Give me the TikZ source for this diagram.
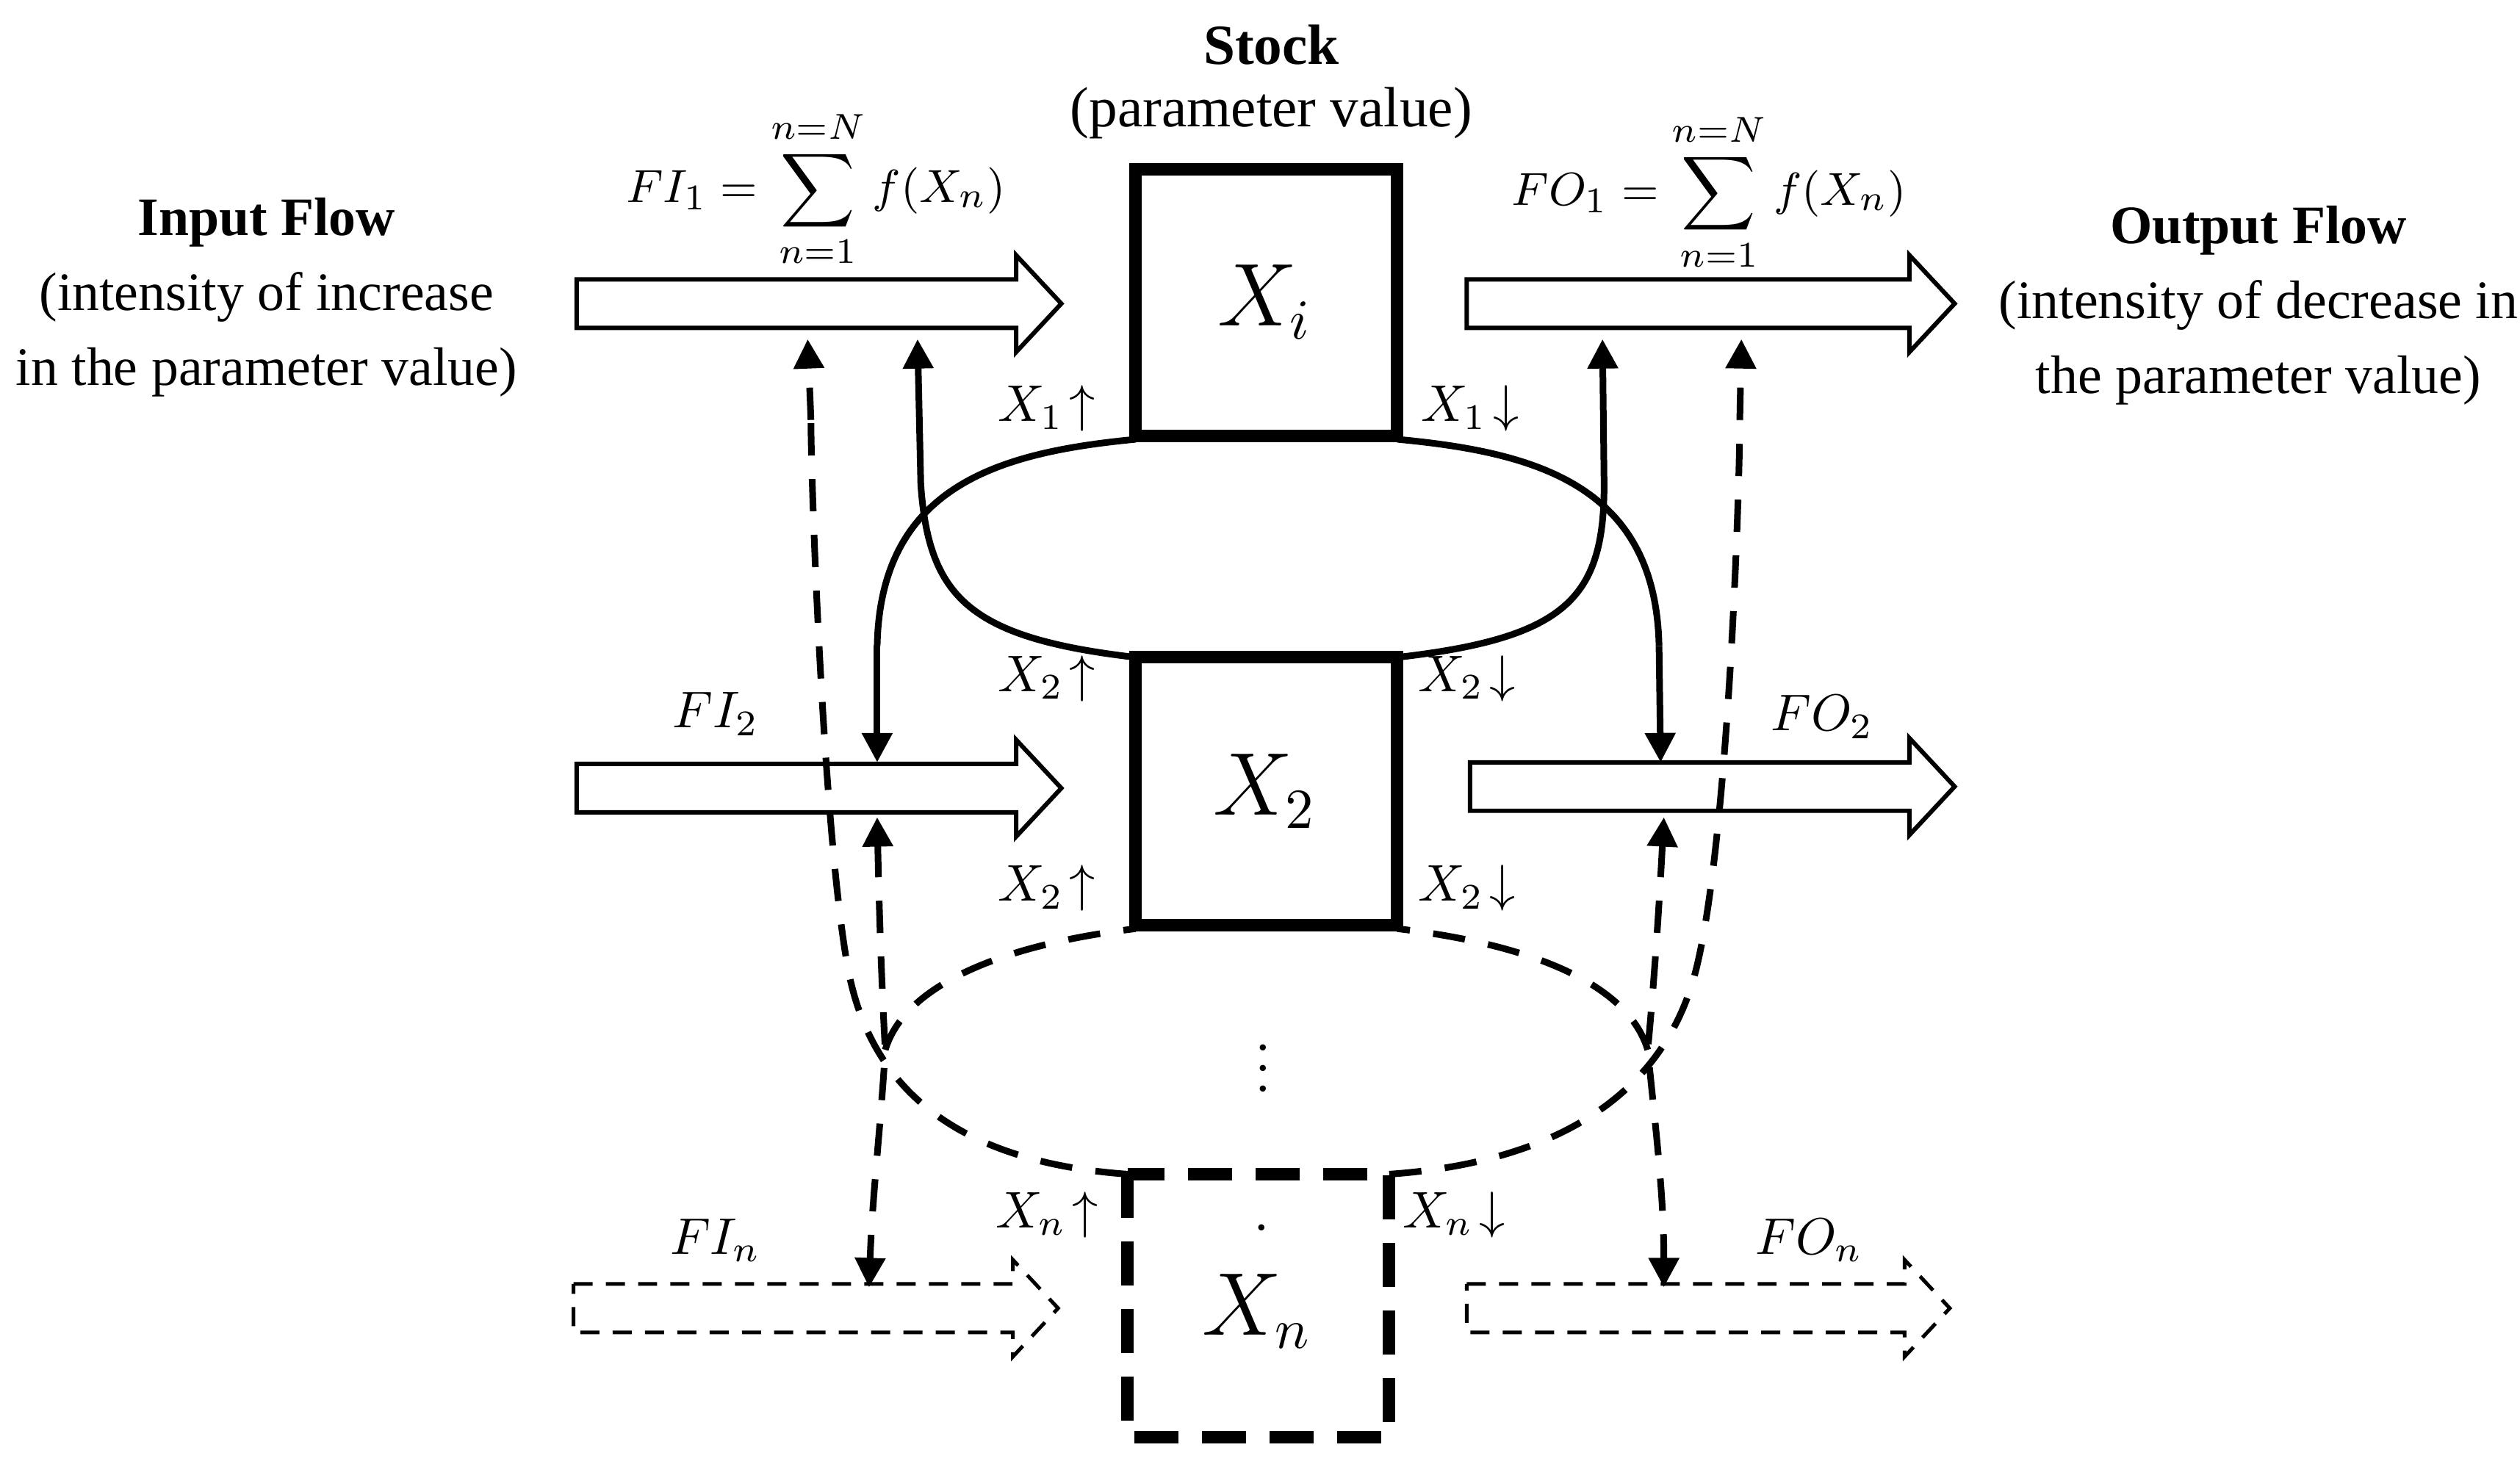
\documentclass[tikz,border=0pt]{standalone}
\usepackage{fontspec}
\setmainfont{Liberation Serif}
\usetikzlibrary{arrows.meta}
\newcommand\flowarrow[4]{%
 \draw[#4] ({#1},{#2-15}) -- ({#1+#3-28},{#2-15}) -- ({#1+#3-28},{#2-30}) -- ({#1+#3},{#2}) -- ({#1+#3-28},{#2+30}) -- ({#1+#3-28},{#2+15}) -- ({#1},{#2+15}) -- cycle;}
\begin{document}
\begin{tikzpicture}[x=0.11mm,y=-0.11mm,
  box/.style={line width=0.85mm},
  dbox/.style={line width=0.85mm,dash pattern=on 3mm off 1.6mm},
  flow/.style={line width=0.3mm},
  dflow/.style={line width=0.25mm,dash pattern=on 1.3mm off 0.9mm},
  loop/.style={line width=0.45mm},
  dloop/.style={line width=0.45mm,dash pattern=on 2.2mm off 1.6mm},
  tip/.style={-{Triangle[length=2mm,width=2mm]}},
  tips/.style={{Triangle[length=2mm,width=2mm]}-{Triangle[length=2mm,width=2mm]}},
  lab/.style={font=\fontsize{10}{12}\selectfont,inner sep=1pt},
  big/.style={font=\fontsize{16}{18}\selectfont}]
\useasboundingbox (0,0) rectangle (1560,906);
% boxes
\draw[box] (703,105) rectangle (865,270);
\draw[box] (703,407) rectangle (865,573);
\draw[dbox] (698,727) rectangle (860,890);
\node[big] (xi) at (783,187) {$X_i$};
\node[big] (x2) at (783,490) {$X_2$};
\node[big] (xn) at (778,812) {$X_n$};
\node[inner sep=0pt] (dd) at (781,760) {.};
\node[inner sep=0pt] (vd) at (782,652) {$\vdots$};
% titles
\node[font=\fontsize{11}{13}\selectfont\bfseries] (stock) at (787,28) {Stock};
\node[font=\fontsize{11}{13}\selectfont] (par) at (787,70) {(parameter value)};
\node[font=\fontsize{10.5}{14.5}\selectfont,align=center] (inf) at (165,184) {\textbf{Input Flow}\\(intensity of increase\\in the parameter value)};
\node[font=\fontsize{10.5}{14.5}\selectfont,align=center] (outf) at (1398,189) {\textbf{Output Flow}\\(intensity of decrease in\\the parameter value)};
\node[font=\fontsize{9.5}{11}\selectfont] (fi1) at (505,117) {$FI_1=\displaystyle\sum_{n=1}^{n=N} f(X_n)$};
\node[font=\fontsize{9.5}{11}\selectfont] (fo1) at (1058,119) {$FO_1=\displaystyle\sum_{n=1}^{n=N} f(X_n)$};
\node[lab] (fi2) at (443,442) {$FI_2$};
\node[lab] (fo2) at (1128,444) {$FO_2$};
\node[lab] (fin) at (443,768) {$FI_n$};
\node[lab] (fon) at (1120,768) {$FO_n$};
\node[lab] (a1) at (648,253) {$X_1\!\uparrow$};
\node[lab] (b1) at (910,253) {$X_1\!\downarrow$};
\node[lab] (a2) at (648,420) {$X_2\!\uparrow$};
\node[lab] (b2) at (908,420) {$X_2\!\downarrow$};
\node[lab] (a3) at (648,550) {$X_2\!\uparrow$};
\node[lab] (b3) at (908,550) {$X_2\!\downarrow$};
\node[lab] (an) at (648,752) {$X_n\!\uparrow$};
\node[lab] (bn) at (900,752) {$X_n\!\downarrow$};
% flow arrows
\flowarrow{357}{188}{300}{flow}
\flowarrow{908}{188}{302}{flow}
\flowarrow{357}{488}{300}{flow}
\flowarrow{910}{487}{300}{flow}
\flowarrow{355}{810}{300}{dflow}
\flowarrow{908}{810}{299}{dflow}
% coordinates
\coordinate (xibl) at (703,272); \coordinate (xibr) at (865,272);
\coordinate (x2tl) at (703,407); \coordinate (x2tr) at (865,407);
\coordinate (x2bl) at (703,575); \coordinate (x2br) at (865,575);
\coordinate (xntl) at (698,727); \coordinate (xntr) at (860,727);
\coordinate (l1) at (568,210); \coordinate (l2) at (543,472);
\coordinate (r1) at (992,210); \coordinate (r2) at (1028,472);
\coordinate (dl1) at (500,210); \coordinate (dr1) at (1078,210);
\coordinate (dl2) at (543,506); \coordinate (dl3) at (538,797);
\coordinate (dr2) at (1030,506); \coordinate (dr3) at (1030,797);
\coordinate (cl) at (548,650); \coordinate (cr) at (1020,650);
% solid loops
\draw[loop] (xibl) .. controls (620,280) and (545,300) .. (543,400);
\draw[loop,tip] (543,400) -- (l2);
\draw[loop,tip] (x2tl) .. controls (600,395) and (575,370) .. (570,300) -- (l1);
\draw[loop] (xibr) .. controls (950,280) and (1025,300) .. (1027,400);
\draw[loop,tip] (1027,400) -- (r2);
\draw[loop,tip] (x2tr) .. controls (970,395) and (993,370) .. (993,300) -- (r1);
% dashed
\draw[dloop] (cl) .. controls (560,610) and (620,585) .. (x2bl);
\draw[dloop,tips] (dl2) .. controls (545,600) and (548,650) .. (cl) .. controls (545,700) and (540,740) .. (dl3);
\draw[dloop] (xntl) .. controls (600,720) and (540,680) .. (525,600) .. controls (510,520) and (502,300) .. (502,260);
\draw[dloop,tip] (502,260) -- (dl1);
\draw[dloop] (cr) .. controls (1008,610) and (950,585) .. (x2br);
\draw[dloop,tips] (dr2) .. controls (1025,600) and (1020,650) .. (cr) .. controls (1025,700) and (1030,740) .. (dr3);
\draw[dloop] (xntr) .. controls (960,720) and (1030,680) .. (1050,600) .. controls (1070,520) and (1077,300) .. (1077,260);
\draw[dloop,tip] (1077,260) -- (dr1);
\end{tikzpicture}
\end{document}
